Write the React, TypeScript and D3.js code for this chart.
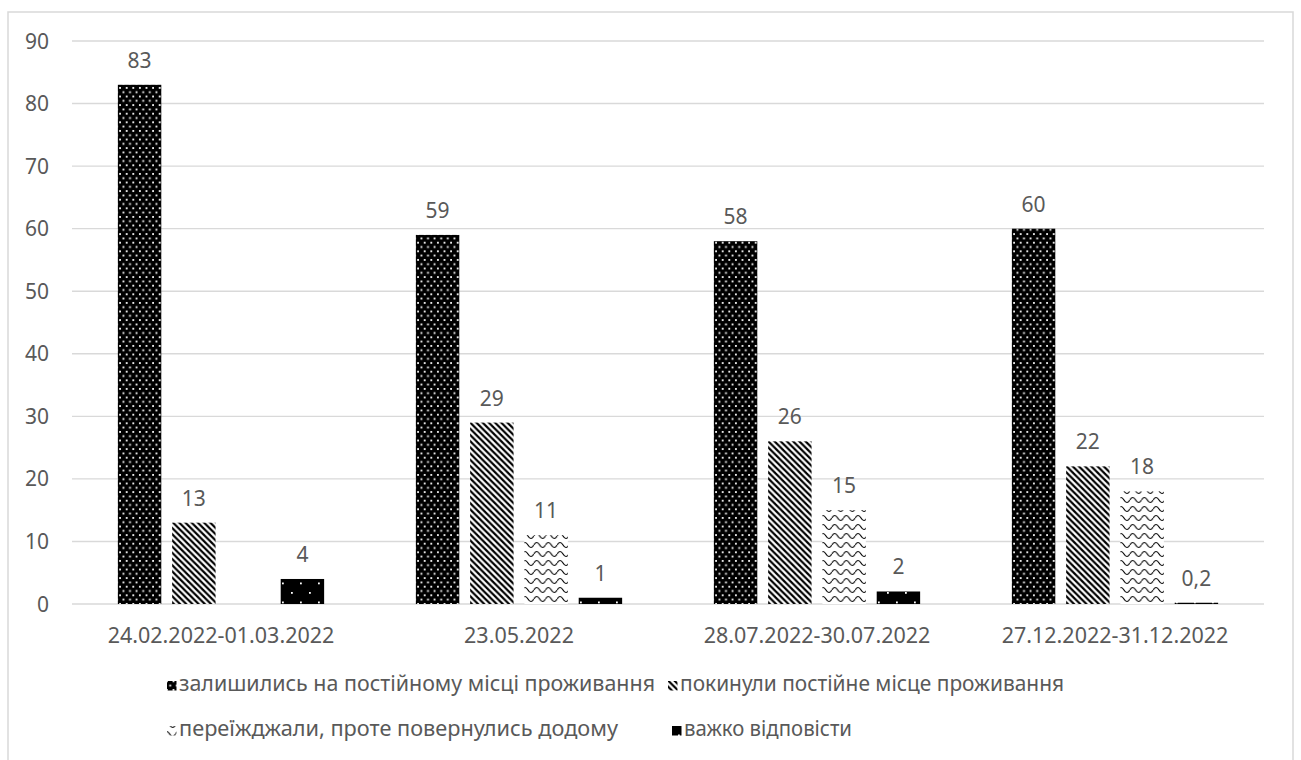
import React from "react";
import * as d3 from "d3";

// Periods of the survey (x categories)
const categories = [
  "24.02.2022-01.03.2022",
  "23.05.2022",
  "28.07.2022-30.07.2022",
  "27.12.2022-31.12.2022",
];

// Share of respondents, %, per answer
const stayed: (number | null)[] = [83, 59, 58, 60];
const leftHome: (number | null)[] = [13, 29, 26, 22];
const movedAndReturned: (number | null)[] = [null, 11, 15, 18];
const hardToSay: (number | null)[] = [4, 1, 2, 0.2];

const seriesNames = [
  "залишились на постійному місці проживання",
  "покинули постійне місце проживання",
  "переїжджали, проте повернулись додому",
  "важко відповісти",
];

const yTicks = [0, 10, 20, 30, 40, 50, 60, 70, 80, 90];

const seriesValues = [stayed, leftHome, movedAndReturned, hardToSay];
const patternIds = ["pat-stayed", "pat-left", "pat-wave", "pat-hard"];

const FONT = "'Noto Sans', 'Open Sans', sans-serif";
const TEXT = "#595959";
const GRID = "#d9d9d9";

const fmt = (v: number) => String(v).replace(".", ",");

function Patterns() {
  return (
    <defs>
      {/* black with dense staggered white dots */}
      <pattern id="pat-stayed" patternUnits="userSpaceOnUse" width={6.6} height={8.6}>
        <rect width={6.6} height={8.6} fill="#000" />
        <rect x={1} y={1} width={1.8} height={1.8} fill="#fff" />
        <rect x={4.3} y={5.3} width={1.8} height={1.8} fill="#fff" />
      </pattern>
      {/* wide downward diagonal stripes */}
      <pattern id="pat-left" patternUnits="userSpaceOnUse" width={6.2} height={6.2}>
        <rect width={6.2} height={6.2} fill="#fff" />
        <path
          d="M-1,-1 L7.2,7.2 M-4.1,2.1 L2.1,8.3 M2.1,-4.1 L8.3,2.1"
          stroke="#000"
          strokeWidth={2.2}
        />
      </pattern>
      {/* horizontal waves */}
      <pattern id="pat-wave" patternUnits="userSpaceOnUse" width={11.7} height={9}>
        <rect width={11.7} height={9} fill="#fff" />
        <path
          d="M0,5 Q2.9,0 5.85,5 T11.7,5"
          fill="none"
          stroke="#000"
          strokeWidth={1.2}
        />
      </pattern>
      {/* black with sparse white dots */}
      <pattern id="pat-hard" patternUnits="userSpaceOnUse" width={18} height={19}>
        <rect width={18} height={19} fill="#000" />
        <rect x={3} y={3} width={1.8} height={1.8} fill="#fff" />
        <rect x={12} y={12.5} width={1.8} height={1.8} fill="#fff" />
      </pattern>
    </defs>
  );
}

export default function App() {
  const W = 1301;
  const H = 760;

  const x0 = d3
    .scaleBand<string>()
    .domain(categories)
    .range([72, 1264])
    .paddingInner(0)
    .paddingOuter(0);

  const x1 = d3
    .scaleBand<number>()
    .domain(d3.range(seriesValues.length))
    .range([0, x0.bandwidth()])
    .paddingInner(0.2)
    .paddingOuter(0.845);

  const y = d3.scaleLinear().domain([0, 90]).range([604, 41]);

  // legend layout: two rows, two entries each
  const legendItems = [
    { s: 0, mx: 167, tx: 179, row: 0, len: 476 },
    { s: 1, mx: 668, tx: 680, row: 0, len: 384 },
    { s: 2, mx: 167, tx: 179, row: 1, len: 439 },
    { s: 3, mx: 672, tx: 684, row: 1, len: 168 },
  ];
  const legendBase = [691, 736];

  return (
    <svg
      width={W}
      height={H}
      style={{ position: "absolute", left: 0, top: 0, background: "#fff" }}
      fontFamily={FONT}
    >
      <Patterns />
      <rect x={8} y={12} width={1285} height={770} fill="#fff" stroke={GRID} strokeWidth={1.5} />

      {/* gridlines and y labels */}
      {yTicks.map((t) => (
        <g key={t}>
          <line
            x1={72}
            x2={1264}
            y1={y(t)}
            y2={y(t)}
            stroke={GRID}
            strokeWidth={1.4}
          />
          <text
            x={49}
            y={y(t)}
            dy="0.36em"
            textAnchor="end"
            fontSize={21}
            fill={TEXT}
          >
            {t}
          </text>
        </g>
      ))}

      {/* bars */}
      {categories.map((c, ci) => (
        <g key={c} transform={`translate(${x0(c)},0)`}>
          {seriesValues.map((vals, si) => {
            const v = vals[ci];
            if (v == null) return null;
            const bx = x1(si)!;
            return (
              <g key={si}>
                <rect
                  x={bx}
                  y={y(v)}
                  width={x1.bandwidth()}
                  height={y(0) - y(v)}
                  fill={`url(#${patternIds[si]})`}
                />
                <text
                  x={bx + x1.bandwidth() / 2}
                  y={y(v) - 17}
                  textAnchor="middle"
                  fontSize={21}
                  fill={TEXT}
                >
                  {fmt(v)}
                </text>
              </g>
            );
          })}
          <text
            x={x0.bandwidth() / 2}
            y={643}
            textAnchor="middle"
            fontSize={21.5}
            fill={TEXT}
          >
            {c}
          </text>
        </g>
      ))}

      {/* legend */}
      {legendItems.map((it) => (
        <g key={it.s}>
          <rect
            x={it.mx}
            y={legendBase[it.row] - 10}
            width={9.5}
            height={9.5}
            fill={`url(#${patternIds[it.s]})`}
          />
          <text
            x={it.tx}
            y={legendBase[it.row]}
            fontSize={21.5}
            fill={TEXT}
            textLength={it.len}
            lengthAdjust="spacingAndGlyphs"
          >
            {seriesNames[it.s]}
          </text>
        </g>
      ))}
    </svg>
  );
}
